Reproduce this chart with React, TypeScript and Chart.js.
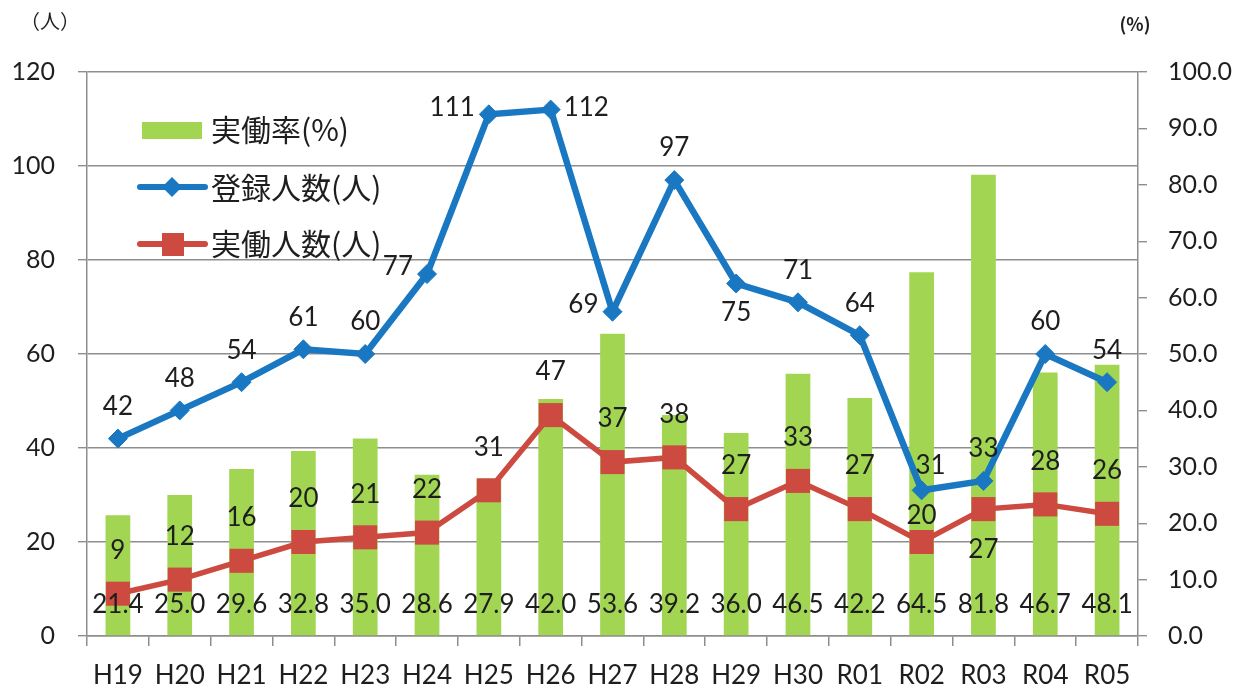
import React, { useEffect, useRef } from "react";
import { Chart, registerables } from "chart.js";

Chart.register(...registerables);

const categories = ["H19", "H20", "H21", "H22", "H23", "H24", "H25", "H26", "H27", "H28", "H29", "H30", "R01", "R02", "R03", "R04", "R05"];
const rateValues = [21.4, 25.0, 29.6, 32.8, 35.0, 28.6, 27.9, 42.0, 53.6, 39.2, 36.0, 46.5, 42.2, 64.5, 81.8, 46.7, 48.1];
const registeredValues = [42, 48, 54, 61, 60, 77, 111, 112, 69, 97, 75, 71, 64, 31, 33, 60, 54];
const workingValues = [9, 12, 16, 20, 21, 22, 31, 47, 37, 38, 27, 33, 27, 20, 27, 28, 26];
const leftTicks = [0, 20, 40, 60, 80, 100, 120];
const rightTicks = [0, 10, 20, 30, 40, 50, 60, 70, 80, 90, 100];

// label anchor names (style only)
const registeredAnchors = ["above", "above", "above", "above", "above", "left", "left", "right", "left", "above", "below", "above", "above", "aboveRight", "above", "above", "above"];
const workingAnchors = ["above", "above", "above", "above", "above", "above", "above", "above", "above", "above", "above", "above", "above", "aboveNear", "below", "above", "above"];

const GREEN = "#a2d652";
const BLUE = "#1a78c2";
const RED = "#cc4a40";
const GRID = "#8e8e8e";
const TEXT = "#1e1e1e";
const NUM_FONT = "Lato, 'Noto Sans', sans-serif";
const CJK_FONT = "'Noto Sans CJK JP', 'Noto Sans', sans-serif";

const blueOffsets: Record<string, [number, number, CanvasTextAlign]> = {
  above: [0, -32, "center"],
  below: [0, 29, "center"],
  left: [-14, -7, "right"],
  right: [13, -2, "left"],
  aboveRight: [9, -25, "center"],
};
const redOffsets: Record<string, [number, number, CanvasTextAlign]> = {
  above: [0, -43, "center"],
  below: [0, 41, "center"],
  aboveNear: [0, -26, "center"],
};

const labelPlugin = {
  id: "valueLabels",
  afterDatasetsDraw(chart: any) {
    const ctx = chart.ctx;
    ctx.save();
    ctx.fillStyle = TEXT;
    ctx.font = `26px ${NUM_FONT}`;
    ctx.textBaseline = "middle";
    const barMeta = chart.getDatasetMeta(0);
    const y1 = chart.scales.y1;
    barMeta.data.forEach((el: any, i: number) => {
      ctx.textAlign = "center";
      ctx.fillText(rateValues[i].toFixed(1), el.x, y1.getPixelForValue(0) - 31);
    });
    const blueMeta = chart.getDatasetMeta(1);
    blueMeta.data.forEach((el: any, i: number) => {
      const [dx, dy, al] = blueOffsets[registeredAnchors[i]];
      ctx.textAlign = al;
      ctx.fillText(String(registeredValues[i]), el.x + dx, el.y + dy);
    });
    const redMeta = chart.getDatasetMeta(2);
    redMeta.data.forEach((el: any, i: number) => {
      const [dx, dy, al] = redOffsets[workingAnchors[i]];
      ctx.textAlign = al;
      ctx.fillText(String(workingValues[i]), el.x + dx, el.y + dy);
    });
    ctx.restore();
  },
};

const legendPlugin = {
  id: "customLegend",
  afterDraw(chart: any) {
    const ctx = chart.ctx;
    ctx.save();
    ctx.fillStyle = GREEN;
    ctx.fillRect(142, 122, 60, 17);
    ctx.strokeStyle = BLUE;
    ctx.lineWidth = 6;
    ctx.lineCap = "round";
    ctx.beginPath();
    ctx.moveTo(140, 187);
    ctx.lineTo(205, 187);
    ctx.stroke();
    ctx.fillStyle = BLUE;
    ctx.beginPath();
    ctx.moveTo(172, 177);
    ctx.lineTo(182, 187);
    ctx.lineTo(172, 197);
    ctx.lineTo(162, 187);
    ctx.closePath();
    ctx.fill();
    ctx.strokeStyle = RED;
    ctx.beginPath();
    ctx.moveTo(140, 244);
    ctx.lineTo(205, 244);
    ctx.stroke();
    ctx.fillStyle = RED;
    ctx.fillRect(162, 233, 22, 23);
    ctx.fillStyle = TEXT;
    ctx.font = `30px ${CJK_FONT}`;
    ctx.textAlign = "left";
    ctx.textBaseline = "middle";
    ctx.fillText("実働率(%)", 211, 130);
    ctx.fillText("登録人数(人)", 211, 188);
    ctx.fillText("実働人数(人)", 211, 244);
    ctx.font = `20px ${CJK_FONT}`;
    ctx.textAlign = "center";
    ctx.fillText("（人）", 50, 21);
    ctx.font = `bold 18px ${CJK_FONT}`;
    ctx.fillText("(%)", 1135, 24);
    ctx.restore();
  },
};

export default function App() {
  const ref = useRef<HTMLCanvasElement | null>(null);
  useEffect(() => {
    if (!ref.current) return;
    const chart = new Chart(ref.current, {
      type: "bar",
      data: {
        labels: categories,
        datasets: [
          {
            type: "bar",
            label: "実働率(%)",
            data: rateValues,
            backgroundColor: GREEN,
            yAxisID: "y1",
            barPercentage: 0.4,
            categoryPercentage: 1,
            order: 3,
          },
          {
            type: "line",
            label: "登録人数(人)",
            data: registeredValues,
            borderColor: BLUE,
            backgroundColor: BLUE,
            borderWidth: 6.5,
            pointStyle: "rectRot",
            pointRadius: 9.5,
            pointBorderWidth: 1,
            tension: 0,
            yAxisID: "y",
            order: 2,
          },
          {
            type: "line",
            label: "実働人数(人)",
            data: workingValues,
            borderColor: RED,
            backgroundColor: RED,
            borderWidth: 5.5,
            pointStyle: "rect",
            pointRadius: 17,
            pointBorderWidth: 0,
            tension: 0,
            yAxisID: "y",
            order: 1,
          },
        ],
      } as any,
      options: {
        responsive: false,
        animation: false,
        layout: { padding: { top: 72, left: 0, right: 0, bottom: 0 } },
        plugins: { legend: { display: false }, tooltip: { enabled: false } },
        scales: {
          x: {
            grid: { offset: true, drawOnChartArea: false, drawTicks: true, tickLength: 10, color: GRID, lineWidth: 1.5 },
            border: { display: true, color: GRID, width: 1.5 },
            ticks: { color: TEXT, font: { family: NUM_FONT, size: 26 }, padding: 14, maxRotation: 0, autoSkip: false },
            afterFit: (s: any) => { s.height = 56; },
          },
          y: {
            position: "left",
            min: leftTicks[0],
            max: leftTicks[leftTicks.length - 1],
            afterBuildTicks: (s: any) => { s.ticks = leftTicks.map((v) => ({ value: v })); },
            grid: { color: GRID, lineWidth: 1.4, tickLength: 9 },
            border: { display: true, color: GRID, width: 1.5 },
            ticks: { color: TEXT, font: { family: NUM_FONT, size: 25 }, padding: 23 },
            afterFit: (s: any) => { s.width = 87; },
          },
          y1: {
            position: "right",
            min: rightTicks[0],
            max: rightTicks[rightTicks.length - 1],
            afterBuildTicks: (s: any) => { s.ticks = rightTicks.map((v) => ({ value: v })); },
            grid: { drawOnChartArea: false, color: GRID, lineWidth: 1.4, tickLength: 9 },
            border: { display: true, color: GRID, width: 1.5 },
            ticks: { color: TEXT, font: { family: NUM_FONT, size: 25 }, padding: 21, callback: (v: any) => Number(v).toFixed(1) },
            afterFit: (s: any) => { s.width = 117; },
          },
        },
      } as any,
      plugins: [labelPlugin, legendPlugin],
    });
    return () => chart.destroy();
  }, []);
  return (
    <div style={{ position: "fixed", left: 0, top: 0, width: 1255, height: 692, background: "#fff" }}>
      <canvas ref={ref} width={1255} height={692} style={{ width: 1255, height: 692, display: "block" }} />
    </div>
  );
}
